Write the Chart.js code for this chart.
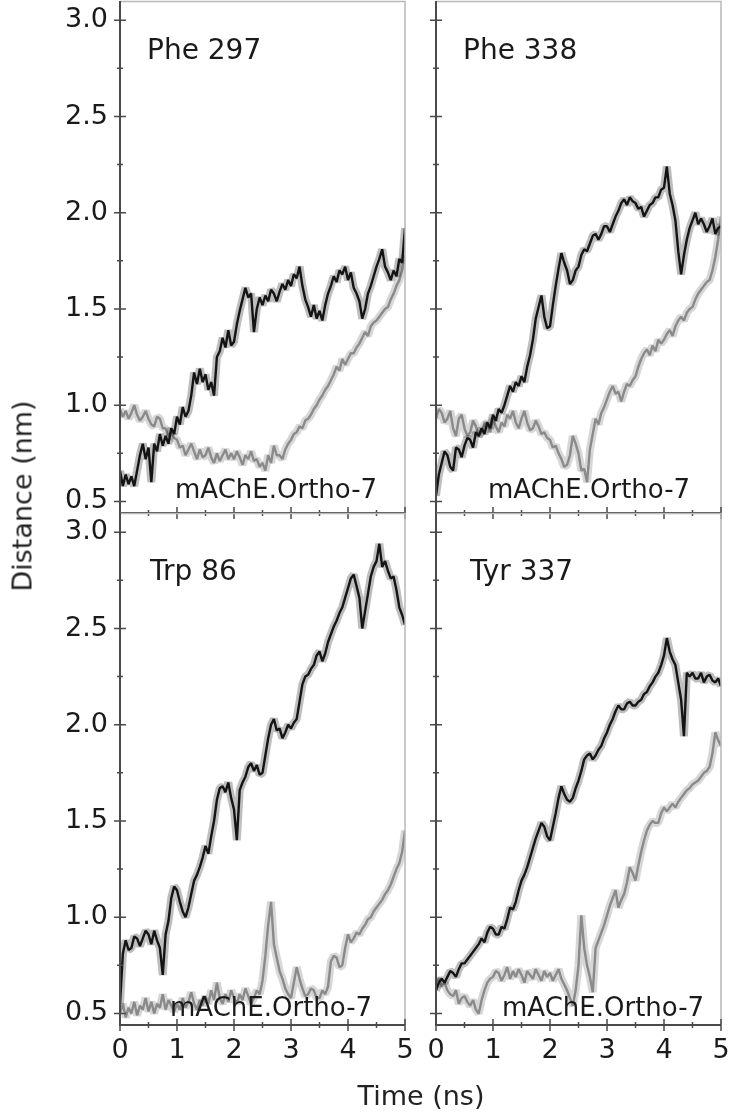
<!DOCTYPE html>
<html>
<head>
<meta charset="utf-8">
<script src="https://cdn.jsdelivr.net/npm/chart.js@4.4.1/dist/chart.umd.min.js"></script>
<style>
    body { margin: 0; background: #fff; }
    #wrap { position: relative; width: 729px; height: 1114px; overflow: hidden; background: #fff; }
    #wrap canvas { position: absolute; left: 0; top: 0; }
    .axis-title { position: absolute; font-family: "DejaVu Sans", sans-serif; font-size: 27px; color: #222; white-space: nowrap; }
    #ytitle { left: 22px; top: 496px; transform: translate(-50%, -50%) rotate(-90deg); }
    #xtitle { left: 421px; top: 1095px; transform: translate(-50%, -50%); }
</style>
</head>
<body>
<div id="wrap">
    <canvas id="c1" width="729" height="1114"></canvas>
    <canvas id="c2" width="729" height="1114"></canvas>
    <canvas id="c3" width="729" height="1114"></canvas>
    <canvas id="c4" width="729" height="1114"></canvas>
    <div class="axis-title" id="ytitle">Distance (nm)</div>
    <div class="axis-title" id="xtitle">Time (ns)</div>
</div>
<script>
// time grid, 0.05 ns steps (0 .. 5 ns)
const times = Array.from({ length: 101 }, (_, i) => +(i * 0.05).toFixed(2));
const xTicks = [0, 0.5, 1, 1.5, 2, 2.5, 3, 3.5, 4, 4.5, 5];
const yTicks = [0.5, 0.75, 1, 1.25, 1.5, 1.75, 2, 2.25, 2.5, 2.75, 3];

const residues = ["Phe 297", "Phe 338", "Trp 86", "Tyr 337"];
const systemLabel = "mAChE.Ortho-7";

// distance (nm), one value per 0.05 ns
const phe297Black = [
    0.66, 0.58, 0.64, 0.59, 0.63, 0.58, 0.66, 0.74, 0.80, 0.72,
    0.78, 0.60, 0.80, 0.76, 0.85, 0.79, 0.84, 0.80, 0.88, 0.85,
    0.94, 0.90, 0.99, 0.94, 0.97, 1.05, 1.17, 1.11, 1.19, 1.12,
    1.16, 1.08, 1.12, 1.05, 1.25, 1.28, 1.35, 1.30, 1.39, 1.31,
    1.33, 1.42, 1.49, 1.55, 1.61, 1.56, 1.58, 1.38, 1.50, 1.56,
    1.52, 1.57, 1.54, 1.60, 1.58, 1.54, 1.59, 1.63, 1.60, 1.65,
    1.62, 1.68, 1.66, 1.72, 1.62, 1.55, 1.51, 1.46, 1.52, 1.45,
    1.49, 1.44, 1.52, 1.58, 1.62, 1.67, 1.64, 1.70, 1.68, 1.72,
    1.65, 1.69, 1.61, 1.58, 1.54, 1.45, 1.50, 1.58, 1.62, 1.67,
    1.72, 1.76, 1.81, 1.72, 1.69, 1.65, 1.70, 1.67, 1.76, 1.74,
    1.92
];
const phe297Gray = [
    0.98, 0.94, 0.97, 0.93, 0.96, 1.00, 0.95, 0.92, 0.94, 0.97,
    0.93, 0.90, 0.89, 0.94, 0.93, 0.88, 0.88, 0.84, 0.86, 0.83,
    0.82, 0.78, 0.79, 0.74, 0.77, 0.80, 0.76, 0.72, 0.77, 0.73,
    0.74, 0.78, 0.73, 0.70, 0.75, 0.71, 0.74, 0.77, 0.72, 0.75,
    0.72, 0.76, 0.73, 0.69, 0.74, 0.72, 0.76, 0.71, 0.72, 0.68,
    0.70, 0.66, 0.74, 0.70, 0.79, 0.74, 0.74, 0.72, 0.77, 0.80,
    0.82, 0.85, 0.86, 0.89, 0.88, 0.92, 0.93, 0.95, 0.98, 1.00,
    1.03, 1.05, 1.08, 1.10, 1.13, 1.16, 1.20, 1.18, 1.24, 1.21,
    1.24, 1.27, 1.27, 1.30, 1.32, 1.35, 1.38, 1.36, 1.41, 1.43,
    1.44, 1.46, 1.48, 1.50, 1.51, 1.55, 1.58, 1.62, 1.65, 1.70,
    1.78
];
const phe338Black = [
    0.53, 0.64, 0.70, 0.76, 0.74, 0.68, 0.66, 0.78, 0.77, 0.73,
    0.79, 0.83, 0.82, 0.78, 0.86, 0.84, 0.88, 0.85, 0.91, 0.88,
    0.95, 0.92, 0.98, 0.96, 1.00, 1.05, 1.10, 1.07, 1.12, 1.10,
    1.15, 1.12, 1.20, 1.26, 1.34, 1.45, 1.51, 1.57, 1.46, 1.40,
    1.41, 1.52, 1.62, 1.71, 1.79, 1.74, 1.70, 1.63, 1.65, 1.70,
    1.72, 1.78, 1.81, 1.80, 1.84, 1.88, 1.89, 1.86, 1.89, 1.93,
    1.93, 1.90, 1.94, 1.98, 2.01, 2.05, 2.07, 2.04, 2.08, 2.06,
    2.05, 2.02, 2.03, 1.98, 2.01, 2.04, 2.05, 2.08, 2.08, 2.12,
    2.13, 2.24, 2.10, 2.04, 1.96, 1.80, 1.68, 1.78, 1.86, 1.92,
    1.96, 2.00, 1.94, 1.97, 1.94, 1.90, 1.93, 1.97, 1.89, 1.92,
    1.93
];
const phe338Gray = [
    0.93, 0.98, 0.96, 0.91, 0.93, 0.97, 0.88, 0.84, 0.93, 0.95,
    0.88, 0.84, 0.86, 0.92, 0.89, 0.84, 0.86, 0.90, 0.91, 0.86,
    0.93, 0.89, 0.86, 0.91, 0.89, 0.95, 0.93, 0.97, 0.91, 0.88,
    0.93, 0.97, 0.91, 0.87, 0.88, 0.92, 0.89, 0.85, 0.86, 0.83,
    0.82, 0.78, 0.79, 0.75, 0.72, 0.68, 0.69, 0.74, 0.84, 0.80,
    0.75, 0.66, 0.67, 0.60, 0.77, 0.85, 0.93, 0.90, 0.96, 0.99,
    1.03, 1.07, 1.10, 1.06, 1.07, 1.02, 1.07, 1.11, 1.10, 1.13,
    1.15, 1.20, 1.24, 1.27, 1.29, 1.26, 1.31, 1.28, 1.34, 1.32,
    1.34, 1.37, 1.39, 1.36, 1.41, 1.44, 1.46, 1.44, 1.48, 1.50,
    1.51, 1.55, 1.58, 1.60, 1.62, 1.64, 1.65, 1.70, 1.77, 1.86,
    1.98
];
const trp86Black = [
    0.55, 0.81, 0.88, 0.83, 0.84, 0.90, 0.89, 0.85, 0.89, 0.93,
    0.91, 0.86, 0.93, 0.88, 0.84, 0.70, 0.91, 0.98, 1.10, 1.16,
    1.14, 1.08, 1.03, 1.00, 1.05, 1.12, 1.19, 1.22, 1.26, 1.31,
    1.37, 1.33, 1.42, 1.50, 1.61, 1.67, 1.68, 1.65, 1.70, 1.62,
    1.56, 1.40, 1.66, 1.70, 1.73, 1.78, 1.80, 1.76, 1.79, 1.74,
    1.75, 1.84, 1.93, 2.00, 2.03, 1.97, 1.98, 1.93, 1.96, 2.00,
    1.98, 2.01, 2.03, 2.12, 2.21, 2.25, 2.26, 2.29, 2.31, 2.36,
    2.38, 2.33, 2.37, 2.43, 2.47, 2.51, 2.54, 2.58, 2.61, 2.66,
    2.71, 2.76, 2.78, 2.72, 2.66, 2.50, 2.59, 2.68, 2.77, 2.82,
    2.85, 2.94, 2.82, 2.85, 2.80, 2.76, 2.77, 2.70, 2.61, 2.57,
    2.52
];
const trp86Gray = [
    0.50, 0.55, 0.48, 0.53, 0.50, 0.56, 0.49, 0.54, 0.52, 0.58,
    0.51, 0.56, 0.50, 0.55, 0.53, 0.60, 0.52, 0.57, 0.54, 0.51,
    0.55, 0.52, 0.58, 0.53, 0.56, 0.61, 0.55, 0.52, 0.57, 0.54,
    0.59, 0.55, 0.62, 0.57, 0.66, 0.58, 0.55, 0.60, 0.56, 0.62,
    0.58, 0.55, 0.60, 0.57, 0.63, 0.59, 0.55, 0.58, 0.62, 0.60,
    0.67, 0.80, 0.96, 1.08, 0.86, 0.79, 0.72, 0.68, 0.63, 0.60,
    0.58, 0.66, 0.74, 0.68, 0.63, 0.59, 0.60, 0.63, 0.62, 0.58,
    0.58, 0.62, 0.60, 0.64, 0.77, 0.80, 0.79, 0.74, 0.75, 0.84,
    0.91, 0.87, 0.89, 0.92, 0.91, 0.94, 0.96, 0.99, 1.00, 1.03,
    1.05, 1.07, 1.09, 1.12, 1.14, 1.17, 1.21, 1.25, 1.28, 1.34,
    1.45
];
const tyr337Black = [
    0.62, 0.66, 0.68, 0.66, 0.69, 0.72, 0.71, 0.69, 0.73, 0.76,
    0.76, 0.78, 0.80, 0.82, 0.84, 0.86, 0.89, 0.87, 0.92, 0.95,
    0.94, 0.91, 0.91, 0.95, 0.94, 0.99, 1.05, 1.04, 1.08, 1.14,
    1.19, 1.22, 1.26, 1.31, 1.36, 1.41, 1.45, 1.49, 1.47, 1.42,
    1.40, 1.47, 1.54, 1.62, 1.68, 1.64, 1.61, 1.60, 1.62, 1.67,
    1.71, 1.76, 1.82, 1.84, 1.85, 1.82, 1.84, 1.87, 1.89, 1.93,
    1.96, 2.00, 2.03, 2.07, 2.10, 2.08, 2.08, 2.11, 2.12, 2.10,
    2.10, 2.12, 2.13, 2.16, 2.17, 2.20, 2.22, 2.25, 2.27, 2.31,
    2.36, 2.45, 2.38, 2.34, 2.31, 2.22, 2.13, 1.94, 2.27, 2.25,
    2.27, 2.24, 2.24, 2.27, 2.22, 2.25, 2.26, 2.23, 2.22, 2.24,
    2.20
];
const tyr337Gray = [
    0.66, 0.68, 0.64, 0.66, 0.62, 0.60, 0.59, 0.62, 0.55, 0.58,
    0.59, 0.56, 0.54, 0.57, 0.52, 0.50, 0.57, 0.62, 0.66, 0.68,
    0.69, 0.72, 0.71, 0.67, 0.70, 0.74, 0.68, 0.72, 0.69, 0.73,
    0.70, 0.66, 0.72, 0.70, 0.68, 0.73, 0.70, 0.67, 0.72, 0.69,
    0.71, 0.67, 0.70, 0.73, 0.68, 0.65, 0.62, 0.58, 0.54, 0.62,
    0.75, 1.01, 0.84, 0.75, 0.69, 0.61, 0.84, 0.88, 0.92, 0.96,
    1.01, 1.06, 1.10, 1.14, 1.05, 1.09, 1.12, 1.18, 1.26, 1.23,
    1.19, 1.27, 1.34, 1.40, 1.45, 1.48, 1.50, 1.49, 1.49, 1.54,
    1.57, 1.55, 1.57, 1.59, 1.57, 1.60, 1.62, 1.64, 1.66, 1.67,
    1.69, 1.70, 1.71, 1.73, 1.75, 1.76, 1.78, 1.85, 1.96, 1.92,
    1.89
];

const FONT = "'DejaVu Sans', sans-serif";

// frame + crossing tick marks + in-panel labels
const panelDeco = {
    id: "panelDeco",
    afterDraw(chart, args, opts) {
        const { ctx, chartArea: a, scales } = chart;
        ctx.save();
        // light top/right border
        ctx.strokeStyle = "#b8b8b8";
        ctx.lineWidth = 1.5;
        ctx.beginPath();
        ctx.moveTo(a.left, a.top + 0.5);
        ctx.lineTo(a.right, a.top + 0.5);
        ctx.lineTo(a.right, a.bottom);
        ctx.stroke();
        // dark left/bottom axes
        ctx.strokeStyle = "#4a4a4a";
        ctx.lineWidth = 2;
        ctx.beginPath();
        ctx.moveTo(a.left, a.top);
        ctx.lineTo(a.left, a.bottom);
        ctx.lineTo(a.right, a.bottom);
        ctx.stroke();
        ctx.lineWidth = 1.5;
        ctx.beginPath();
        scales.y.ticks.forEach((t) => {
            const y = scales.y.getPixelForValue(t.value);
            const len = t.value % 0.5 === 0 ? 6 : 3;
            ctx.moveTo(a.left - len, y);
            ctx.lineTo(a.left + len, y);
        });
        scales.x.ticks.forEach((t) => {
            const x = scales.x.getPixelForValue(t.value);
            const len = t.value % 1 === 0 ? 6 : 3;
            ctx.moveTo(x, a.bottom - len);
            ctx.lineTo(x, a.bottom + len);
        });
        ctx.stroke();
        // residue name and system label
        ctx.fillStyle = "#1a1a1a";
        ctx.textBaseline = "alphabetic";
        ctx.font = "28px " + FONT;
        ctx.fillText(opts.name, a.left + opts.nameX, a.top + opts.nameY);
        ctx.font = "26px " + FONT;
        ctx.fillText(systemLabel, a.left + opts.sysX, a.bottom - opts.sysY);
        ctx.restore();
    },
};

// keep label overflow from moving the chart area
function noScalePadding(s) {
    s.paddingLeft = 0;
    s.paddingRight = 0;
    s.paddingTop = 0;
    s.paddingBottom = 0;
}

function makePanel(id, black, gray, p) {
    const toXY = (arr) => arr.map((v, i) => ({ x: times[i], y: v }));
    return new Chart(document.getElementById(id), {
        type: "line",
        data: {
            datasets: [
                // core line on top, a wide faint copy under it for the fuzzy band look
                { data: toXY(black), borderColor: "#141414", borderWidth: 2.4, order: 0 },
                { data: toXY(black), borderColor: "rgba(20,20,20,0.28)", borderWidth: 8, order: 1 },
                { data: toXY(gray), borderColor: "#8a8a8a", borderWidth: 2.4, order: 2 },
                { data: toXY(gray), borderColor: "rgba(140,140,140,0.35)", borderWidth: 8, order: 3 },
            ],
        },
        plugins: [panelDeco],
        options: {
            responsive: false,
            animation: false,
            events: [],
            layout: { padding: p.pad },
            elements: { point: { radius: 0 }, line: { tension: 0, borderJoinStyle: "bevel" } },
            plugins: {
                legend: { display: false },
                tooltip: { enabled: false },
                panelDeco: p.deco,
            },
            scales: {
                x: {
                    type: "linear",
                    min: 0,
                    max: 5,
                    afterBuildTicks: (s) => { s.ticks = xTicks.map((v) => ({ value: v })); },
                    afterFit: (s) => { s.height = p.xh; noScalePadding(s); },
                    grid: { display: false, drawTicks: false },
                    border: { display: false },
                    ticks: {
                        display: p.xLabels,
                        padding: 10,
                        color: "#1a1a1a",
                        font: { family: FONT, size: 27 },
                        maxRotation: 0,
                        autoSkip: false,
                        callback: (v) => (v % 1 === 0 ? String(v) : ""),
                    },
                },
                y: {
                    min: 0.44,
                    max: 3.1,
                    afterBuildTicks: (s) => { s.ticks = yTicks.map((v) => ({ value: v })); },
                    afterFit: (s) => { s.width = p.yw; noScalePadding(s); },
                    grid: { display: false, drawTicks: false },
                    border: { display: false },
                    ticks: {
                        display: p.yLabels,
                        padding: 12,
                        color: "#1a1a1a",
                        font: { family: FONT, size: 27 },
                        autoSkip: false,
                        callback: (v) => (v % 0.5 === 0 ? v.toFixed(1) : ""),
                    },
                },
            },
        },
    });
}

// chart areas: left panels x 120..405, right panels x 436..721
// top panels y 1..513, bottom panels y 513..1025
makePanel("c1", phe297Black, phe297Gray, {
    pad: { left: 0, right: 324, top: 1, bottom: 591 }, yw: 120, xh: 10,
    xLabels: false, yLabels: true,
    deco: { name: residues[0], nameX: 27, nameY: 58, sysX: 55, sysY: 15 },
});
makePanel("c2", phe338Black, phe338Gray, {
    pad: { left: 400, right: 8, top: 1, bottom: 591 }, yw: 36, xh: 10,
    xLabels: false, yLabels: false,
    deco: { name: residues[1], nameX: 27, nameY: 58, sysX: 52, sysY: 15 },
});
makePanel("c3", trp86Black, trp86Gray, {
    pad: { left: 0, right: 324, top: 513, bottom: 39 }, yw: 120, xh: 50,
    xLabels: true, yLabels: true,
    deco: { name: residues[2], nameX: 30, nameY: 67, sysX: 50, sysY: 9 },
});
makePanel("c4", tyr337Black, tyr337Gray, {
    pad: { left: 400, right: 8, top: 513, bottom: 39 }, yw: 36, xh: 50,
    xLabels: true, yLabels: false,
    deco: { name: residues[3], nameX: 34, nameY: 67, sysX: 66, sysY: 9 },
});
</script>
</body>
</html>
